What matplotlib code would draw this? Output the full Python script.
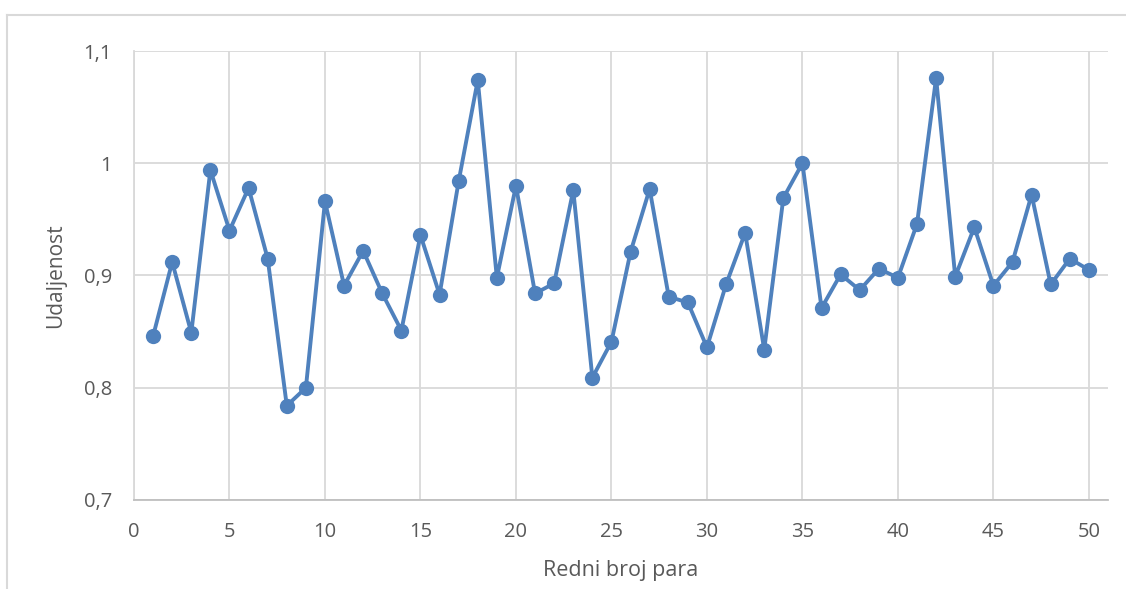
import numpy as np
import matplotlib.pyplot as plt
from matplotlib.lines import Line2D
from matplotlib.ticker import FuncFormatter, MultipleLocator

# data
pair_no = list(range(1, 51))
distance = [0.846, 0.912, 0.849, 0.994, 0.940, 0.978, 0.915, 0.784, 0.800, 0.966,
            0.891, 0.922, 0.884, 0.851, 0.936, 0.883, 0.984, 1.074, 0.898, 0.980,
            0.884, 0.893, 0.976, 0.809, 0.841, 0.921, 0.977, 0.881, 0.876, 0.836,
            0.892, 0.938, 0.834, 0.969, 1.000, 0.871, 0.901, 0.887, 0.906, 0.898,
            0.946, 1.076, 0.899, 0.943, 0.891, 0.912, 0.972, 0.892, 0.915, 0.905]

plt.rcParams['font.family'] = ['Open Sans', 'DejaVu Sans']

fig = plt.figure(figsize=(11.26, 5.89), dpi=100)
ax = fig.add_axes([134/1126, 1-500/589, (1108-134)/1126, (500-51)/589])

ax.plot(pair_no, distance, color='#4f81bd', lw=2.8, marker='o', ms=11,
        markeredgewidth=0, zorder=3)

ax.set_xlim(0, 51)
ax.set_ylim(0.7, 1.1)
ax.xaxis.set_major_locator(MultipleLocator(5))
ax.yaxis.set_major_locator(MultipleLocator(0.1))

def comma(v, pos):
    s = f'{v:.1f}'.replace('.', ',')
    return '1' if s == '1,0' else s

ax.yaxis.set_major_formatter(FuncFormatter(comma))
ax.grid(True, color='#d9d9d9', lw=1.3)
ax.set_axisbelow(True)

for side in ['top', 'right']:
    ax.spines[side].set_visible(False)
ax.spines['left'].set_color('#d9d9d9')
ax.spines['left'].set_linewidth(1.3)
ax.spines['bottom'].set_color('#bfbfbf')
ax.spines['bottom'].set_linewidth(1.3)

ax.tick_params(length=0, labelsize=14.5, labelcolor='#595959')
ax.tick_params(axis='x', pad=16)
ax.tick_params(axis='y', pad=16)
ax.set_xlabel('Redni broj para', fontsize=15.5, color='#595959', labelpad=13)
ax.set_ylabel('Udaljenost', fontsize=15, color='#595959', labelpad=12)

# chart area frame (only left and top edges are visible)
x0 = 7/1126
y0 = 1 - 15/589
fig.add_artist(Line2D([x0, x0], [0, y0], color='#d9d9d9', lw=1.5))
fig.add_artist(Line2D([x0, 1], [y0, y0], color='#d9d9d9', lw=1.5))

fig.savefig('out.png', dpi=100)
